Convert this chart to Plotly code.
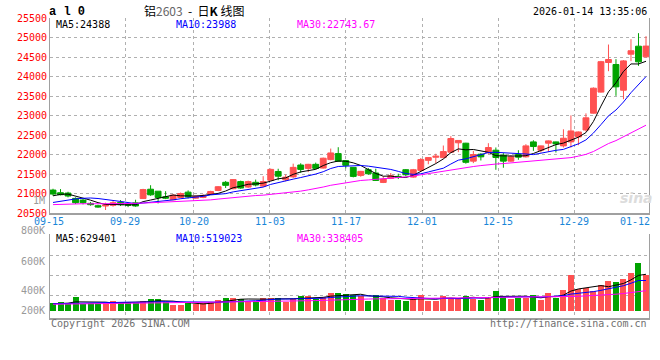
import numpy as np
import pandas as pd
import plotly.graph_objects as go

# ---------------- data ----------------
holidays = ["2025-10-01", "2025-10-02", "2025-10-03", "2025-10-06", "2025-10-07",
            "2025-10-08", "2026-01-01", "2026-01-02"]
dates = [d.strftime("%m-%d") for d in
         pd.bdate_range("2025-09-15", "2026-01-14", freq="C", holidays=holidays)]

open_ = [21088, 21020, 21011, 20875, 20832, 20747, 20687, 20679, 20696, 20772,
         20730, 20760, 20870, 21110, 21059, 20915, 20839, 20898, 21035, 20880,
         20900, 20983, 21078, 21287, 21122, 21305, 21165, 21287, 21190, 21340,
         21565, 21350, 21426, 21730, 21644, 21748, 21652, 21869, 22023, 21843,
         21670, 21464, 21610, 21525, 21284, 21387, 21439, 21610, 21420, 21593,
         21850, 21930, 21920, 22060, 22300, 22290, 21830, 22008, 22051, 22110,
         21983, 21830, 22000, 21940, 22323, 22110, 22290, 22323, 22221, 22323,
         22451, 22629, 23060, 23600, 24359, 24307, 23649, 24572, 24777, 24504]
high = [21122, 21113, 21045, 20900, 20858, 20781, 20713, 20764, 20815, 20832,
        20764, 20840, 21120, 21212, 21059, 21059, 20983, 21025, 21080, 20950,
        20980, 21070, 21190, 21322, 21370, 21330, 21330, 21357, 21444, 21640,
        21635, 21487, 21765, 21775, 21760, 21792, 21920, 22152, 22187, 21860,
        21670, 21580, 21654, 21636, 21440, 21525, 21507, 21628, 21630, 21910,
        21930, 22020, 22230, 22470, 22370, 22300, 22094, 22034, 22290, 22180,
        22034, 21983, 22110, 22264, 22365, 22230, 22360, 22330, 22646, 23003,
        22590, 23054, 23720, 24400, 24820, 24444, 24420, 24957, 25111, 25034]
low = [20943, 20952, 20900, 20730, 20721, 20687, 20636, 20577, 20662, 20679,
       20650, 20660, 20860, 20940, 20746, 20856, 20830, 20873, 20875, 20870,
       20880, 20970, 21060, 21140, 21110, 21120, 21140, 21183, 21165, 21330,
       21340, 21313, 21400, 21530, 21548, 21620, 21640, 21851, 21808, 21645,
       21413, 21430, 21480, 21320, 21267, 21370, 21370, 21439, 21400, 21570,
       21750, 21780, 21900, 22040, 22060, 21765, 21779, 21847, 22008, 21609,
       21660, 21813, 21864, 21923, 22094, 22051, 22068, 22051, 22179, 22179,
       22238, 22587, 23050, 23590, 24136, 23504, 23418, 24393, 24273, 24487]
close = [20986, 20969, 20935, 20764, 20764, 20713, 20653, 20704, 20764, 20713,
         20700, 20680, 21100, 20966, 20898, 20881, 20958, 21000, 20910, 20930,
         20950, 21052, 21174, 21209, 21357, 21140, 21305, 21218, 21305, 21618,
         21444, 21418, 21670, 21618, 21748, 21644, 21905, 22040, 21826, 21722,
         21439, 21568, 21507, 21335, 21370, 21456, 21413, 21480, 21610, 21870,
         21920, 21955, 22075, 22410, 22360, 21800, 22000, 21940, 22179, 21923,
         21830, 21940, 21932, 22221, 22204, 22221, 22349, 22272, 22417, 22604,
         22578, 22940, 23700, 24380, 24436, 23735, 24400, 24660, 24376, 24780]
volume_k = [134, 157, 134, 251, 122, 134, 134, 134, 181, 140,
            157, 134, 181, 210, 210, 157, 105, 105, 157, 117,
            134, 163, 198, 233, 233, 204, 181, 181, 233, 233,
            233, 163, 210, 268, 268, 204, 245, 312, 315, 297,
            280, 262, 181, 280, 233, 198, 198, 181, 210, 280,
            181, 181, 262, 233, 233, 262, 210, 198, 245, 356,
            262, 210, 233, 233, 280, 198, 315, 233, 367, 630,
            385, 402, 350, 455, 531, 513, 560, 665, 846, 630]
# sessions before the window (needed for the moving averages at the left edge)
pre_close = [20720, 20690, 20650, 20700, 20760, 20730, 20680, 20640, 20610, 20650,
             20700, 20740, 20720, 20680, 20650, 20630, 20660, 20700, 20720, 20720,
             20620, 20560, 20580, 20600, 20640, 20780, 20900, 21010, 21024]
pre_volume_k = [112, 108, 121, 117, 110, 115, 119, 106, 113, 120,
                116, 109, 118, 114, 111, 122, 107, 115, 119, 113,
                126, 131, 118, 124, 129, 121, 127, 133, 125]

tick_labels = ["09-15", "09-29", "10-20", "11-03", "11-17", "12-01", "12-15", "12-29", "01-12"]
price_ticks = list(range(20500, 25501, 500))
vol_labels = ["1M", "800K", "600K", "400K", "200K"]

price_ma_text = ["MA5:24388", "MA10:23988", "MA30:22743.67"]
vol_ma_text = ["MA5:629401", "MA10:519023", "MA30:338405"]

# ---------------- derived ----------------
n = len(close)
x = list(range(n))
volume = [v * 1000 for v in volume_k]


def mov_avg(pre, vals, w):
    s = pd.Series(list(pre) + list(vals), dtype=float).rolling(w).mean().to_numpy()
    return s[-len(vals):]


pre_vol = [v * 1000 for v in pre_volume_k]
ma_p = {w: mov_avg(pre_close, close, w) for w in (5, 10, 30)}
ma_v = {w: mov_avg(pre_vol, volume, w) for w in (5, 10, 30)}

RED = "#ff5151"
GREEN = "#00a300"
MA_COL = {5: "#000000", 10: "#0000ff", 30: "#ff00ff"}
GRID = "#b0b0b0"
BORDER = "#a0a0a0"
MONO = "DejaVu Sans Mono"

vol_colors = [RED if c >= o else GREEN for o, c in zip(open_, close)]

# pixel helpers for the 660x360 canvas (plot area x 50..649, y 18..318)
T, B, L, R = 18, 318, 50, 649


def py(Y):
    return (B - Y) / (B - T)


def pxp(X):
    return (X - L) / (R - L)


VOL_PER_PX = 17500.0
VOL_BASE_PX = 311


def vol_at(Y):
    return (VOL_BASE_PX - Y) * VOL_PER_PX


xr = [-0.4, n - 0.6]


def x_to_paper(v):
    return (v - xr[0]) / (xr[1] - xr[0])


tick_idx = [dates.index(t) for t in tick_labels]
# the site's date grid runs slightly wider than the candle spacing
grid_pos = [1.0139 * i - 0.51 for i in tick_idx]

fig = go.Figure()
fig.add_trace(go.Candlestick(
    x=x, open=open_, high=high, low=low, close=close,
    increasing=dict(line=dict(color=RED, width=1), fillcolor=RED),
    decreasing=dict(line=dict(color=GREEN, width=1), fillcolor=GREEN),
    whiskerwidth=0, xaxis="x", yaxis="y", showlegend=False, hoverinfo="skip"))
for w in (5, 10, 30):
    fig.add_trace(go.Scatter(x=x, y=ma_p[w], mode="lines",
                             line=dict(color=MA_COL[w], width=1),
                             xaxis="x", yaxis="y", hoverinfo="skip"))

fig.add_trace(go.Bar(x=x, y=volume, marker=dict(color=vol_colors, line=dict(width=0)),
                     width=0.8, xaxis="x2", yaxis="y2", hoverinfo="skip"))
for w in (5, 10, 30):
    fig.add_trace(go.Scatter(x=x, y=ma_v[w], mode="lines",
                             line=dict(color=MA_COL[w], width=1),
                             xaxis="x2", yaxis="y2", hoverinfo="skip"))

xcommon = dict(range=xr, tickvals=grid_pos[1:-1], showticklabels=False, ticks="",
               showgrid=True, gridcolor=GRID, griddash="dot", gridwidth=1,
               showline=True, linecolor=BORDER, linewidth=2, zeroline=False,
               fixedrange=True)

vol_lo, vol_hi = vol_at(B), vol_at(234)
vol_grid = [vol_at(295), vol_at(275), vol_at(255), vol_hi]

fig.update_layout(
    width=660, height=360,
    margin=dict(l=L, r=660 - R, t=T, b=360 - B, pad=0),
    paper_bgcolor="white", plot_bgcolor="white",
    showlegend=False, boxgap=0.22, boxgroupgap=0, bargap=0,
    xaxis=dict(domain=[0, 1], anchor="y", rangeslider=dict(visible=False), **xcommon),
    xaxis2=dict(domain=[0, 1], anchor="y2", **xcommon),
    yaxis=dict(domain=[py(213), 1], range=[price_ticks[0], price_ticks[-1]],
               tickvals=price_ticks, ticktext=[str(v) for v in price_ticks],
               tickfont=dict(family=MONO, size=10, color="#ff0000"), ticks="",
               showgrid=True, gridcolor=GRID, griddash="dot", gridwidth=1,
               showline=True, linecolor=BORDER, linewidth=1, mirror=True,
               zeroline=False, fixedrange=True),
    yaxis2=dict(domain=[0, py(234)], range=[vol_lo, vol_hi], tickvals=vol_grid,
                showticklabels=False, ticks="",
                showgrid=True, gridcolor=GRID, griddash="dot", gridwidth=1,
                showline=True, linecolor=BORDER, linewidth=1, mirror=True,
                zeroline=False, fixedrange=True),
)

anns = []


def ann(text, X, Y, color="#000000", size=10, xanchor="left", family=MONO):
    anns.append(dict(text=text, x=pxp(X), y=py(Y), xref="paper", yref="paper",
                     xanchor=xanchor, yanchor="middle", showarrow=False,
                     font=dict(family=family, size=size, color=color)))


# header
anns.append(dict(text="<b>a l 0</b>", x=pxp(47), y=py(12), xref="paper", yref="paper",
                 xanchor="left", yanchor="middle", showarrow=False,
                 font=dict(family="Liberation Mono", size=12, color="#000000")))
ann("铝<span style='color:#666666'>2603</span>  -  日<b>K</b> 线图", 194, 10,
    size=12, xanchor="center", family="Noto Sans CJK SC")
ann("2026-01-14 13:35:06", 649, 12, xanchor="right")

# moving-average captions
for txt, X, w in zip(price_ma_text, (54, 174, 295), (5, 10, 30)):
    ann(txt, X, 24, color=MA_COL[w])
for txt, X, w in zip(vol_ma_text, (54, 174, 295), (5, 10, 30)):
    ann(txt, X, 238.5, color=MA_COL[w])

# volume scale labels
for txt, Y in zip(vol_labels, (200, 230, 261, 290, 310)):
    anns.append(dict(text=txt, x=0, y=py(Y), xref="paper", yref="paper",
                     xanchor="right", yanchor="middle", xshift=-3, showarrow=False,
                     font=dict(family=MONO, size=10, color="#999999")))

# date labels
for txt, gp in zip(tick_labels, grid_pos):
    anns.append(dict(text=txt, x=x_to_paper(gp), y=py(221.5), xref="paper", yref="paper",
                     xanchor="center", yanchor="middle", showarrow=False,
                     font=dict(family=MONO, size=10, color="#1a86d8")))

# footer
ann("Copyright 2026 SINA.COM", 49, 323.5, color="#707070")
ann("http://finance.sina.com.cn", 649, 323.5, color="#707070", xanchor="right")

# watermark
anns.append(dict(text="<b><i>sina</i></b>", x=pxp(636), y=py(198), xref="paper", yref="paper",
                 xanchor="center", yanchor="middle", showarrow=False,
                 font=dict(family="DejaVu Sans", size=14, color="#dcdcdc")))

fig.update_layout(annotations=anns)
fig.write_html("out.html", config={"displayModeBar": False},
               post_script="document.body.style.margin='0';document.body.style.padding='0';")
